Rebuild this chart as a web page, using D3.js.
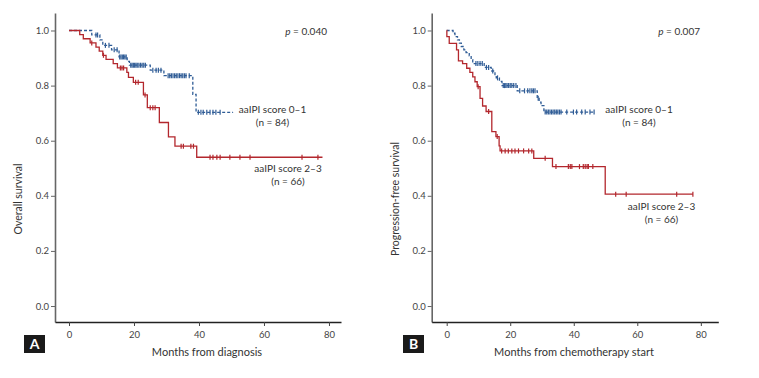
<!DOCTYPE html>
<html><head><meta charset="utf-8">
<script src="https://cdn.jsdelivr.net/npm/d3@7"></script>
<style>body{margin:0;background:#fff}svg{display:block}text{font-family:Lato,"Open Sans",sans-serif;fill:#333}</style>
</head><body><svg id="c" width="759" height="378"></svg>
<script>
// ---------- DATA ----------
const xTicks = [0, 20, 40, 60, 80];
const yTicks = [0.0, 0.2, 0.4, 0.6, 0.8, 1.0];
const groupLabels = ["aaIPI score 0\u20131", "aaIPI score 2\u20133"];
const groupN = ["(n = 84)", "(n = 66)"];
const panelLetters = ["A", "B"];
const yTitles = ["Overall survival", "Progression-free survival"];
const xTitles = ["Months from diagnosis", "Months from chemotherapy start"];
const pValues = ["0.040", "0.007"];

// Panel A – overall survival: [months, survival] after each event
const osLowSteps = [[0,1.0],[7.0,0.984],[9.5,0.966],[10.4,0.946],[13.1,0.93],[15.4,0.904],[17.9,0.888],[18.6,0.874],[25.0,0.856],[29.2,0.836],[38.1,0.768],[39.1,0.703]];
const osLowEnd = 50.5;
const osLowCens = [8.3,8.8,11.2,12.3,13.9,14.8,15.6,16.0,16.4,16.8,17.2,17.6,19.0,19.4,19.8,20.2,20.6,21.0,21.5,22.0,22.5,23.0,23.5,25.8,26.8,27.5,28.3,30.5,31.0,31.5,32.0,32.5,33.0,33.5,34.0,34.5,35.0,35.5,36.0,37.0,39.8,40.6,41.3,42.4,43.4,44.3,45.2,46.5];
const osHighSteps = [[0,1.0],[3.3,0.985],[4.4,0.97],[6.5,0.955],[8.3,0.94],[9.3,0.925],[10.4,0.91],[11.4,0.895],[13.6,0.88],[14.9,0.864],[17.8,0.848],[18.3,0.83],[19.8,0.812],[22.9,0.766],[24.1,0.72],[27.8,0.666],[30.6,0.614],[32.6,0.58],[39.3,0.54]];
const osHighEnd = 78.0;
const osHighCens = [7.0,10.6,15.8,16.3,16.8,20.5,21.3,23.4,25.0,25.8,26.5,34.5,35.2,37.5,38.3,43.4,44.3,45.5,46.5,49.5,52.6,55.7,71.7,76.6];

// Panel B – progression-free survival
const pfsLowSteps = [[0,1.0],[2.0,0.99],[2.6,0.978],[3.4,0.966],[4.0,0.954],[4.6,0.942],[5.4,0.93],[6.1,0.92],[7.1,0.908],[7.7,0.894],[8.2,0.88],[11.8,0.866],[14.0,0.853],[15.2,0.84],[15.6,0.828],[16.6,0.815],[17.4,0.8],[22.2,0.781],[28.5,0.754],[29.1,0.74],[29.7,0.727],[30.6,0.704]];
const pfsLowEnd = 46.7;
const pfsLowCens = [9.2,9.8,10.5,11.2,12.5,13.2,14.5,16.0,17.8,18.2,18.6,19.0,19.5,20.0,20.5,21.1,21.8,23.0,24.5,25.5,26.2,26.8,27.3,27.8,28.8,31.0,31.5,32.0,32.5,33.0,33.5,34.0,34.5,35.0,35.5,36.0,37.8,39.9,40.9,42.5,43.6,45.1,46.4];
const pfsHighSteps = [[0,1.0],[0.05,0.978],[0.8,0.953],[3.1,0.93],[3.7,0.89],[5.0,0.88],[6.3,0.863],[7.3,0.848],[8.2,0.832],[8.9,0.814],[9.6,0.796],[10.5,0.754],[11.3,0.726],[12.4,0.706],[14.2,0.633],[15.5,0.615],[16.5,0.581],[16.8,0.563],[27.4,0.536],[33.3,0.506],[49.9,0.406]];
const pfsHighEnd = 77.5;
const pfsHighCens = [9.9,13.2,15.9,17.3,18.4,19.4,20.5,21.5,22.6,24.2,25.8,26.8,31.0,34.4,38.3,38.9,39.4,41.8,43.0,43.6,44.2,44.6,46.0,53.2,56.5,72.4,77.5];

// ---------- DRAW ----------
const svg = d3.select("#c");
const blue = "#2f5c96", red = "#b3272d";

function stepValue(steps, t){ let v = steps[0][1]; for (const s of steps){ if (s[0] <= t) v = s[1]; } return v; }

function panel(o){
  const g = svg.append("g");
  const x = d3.scaleLinear().domain(o.xDom).range(o.xRange);
  const y = d3.scaleLinear().domain([-0.058, 1.0635]).range([322, 13]);

  // axes
  const ya = g.append("g").attr("transform", `translate(${o.xRange[0]},0)`)
    .call(d3.axisLeft(y).tickValues(yTicks).tickFormat(d3.format(".1f")).tickSize(4).tickSizeOuter(0));
  ya.select(".domain").attr("stroke", "#666").attr("stroke-width", 1.6);
  ya.selectAll(".tick line").attr("stroke", "#666");
  ya.selectAll(".tick text").attr("font-size", 9.5).attr("x", -6).style("fill", "#444");
  const xa = g.append("g").attr("transform", "translate(0,322)")
    .call(d3.axisBottom(x).tickValues(xTicks).tickSize(4).tickSizeOuter(0));
  xa.select(".domain").attr("stroke", "#222").attr("stroke-width", 1.6);
  xa.selectAll(".tick line").attr("stroke", "#444");
  xa.selectAll(".tick text").attr("font-size", 9.5).attr("dy", "0.9em").style("fill", "#444");
  ya.selectAll("text").attr("font-family", "Lato");
  xa.selectAll("text").attr("font-family", "Lato");

  const line = d3.line().x(d => x(d[0])).y(d => y(d[1])).curve(d3.curveStepAfter);
  o.groups.forEach(gr => {
    const pts = gr.steps.concat([[gr.end, gr.steps[gr.steps.length-1][1]]]);
    g.append("path").attr("d", line(pts)).attr("fill", "none").attr("stroke", gr.color)
      .attr("stroke-width", 1.3).attr("stroke-dasharray", gr.dash || null);
    g.selectAll(null).data(gr.cens).enter().append("line")
      .attr("x1", d => x(d)).attr("x2", d => x(d))
      .attr("y1", d => y(stepValue(gr.steps, d)) - 2.5).attr("y2", d => y(stepValue(gr.steps, d)) + 2.5)
      .attr("stroke", gr.color).attr("stroke-width", 1.2);
    g.append("text").attr("x", gr.lx).attr("y", gr.ly).attr("text-anchor", "middle").attr("font-size", 10).text(gr.label);
    g.append("text").attr("x", gr.lx).attr("y", gr.ly + 13).attr("text-anchor", "middle").attr("font-size", 10).text(gr.n);
  });

  // p value
  const pt = g.append("text").attr("x", o.px).attr("y", 35).attr("font-size", 10).attr("text-anchor", "end");
  pt.append("tspan").attr("font-style", "italic").text("p");
  pt.append("tspan").text(" = " + o.p);

  // titles
  g.append("text").attr("transform", `translate(${o.yTitleX},199) rotate(-90)`).attr("text-anchor", "middle")
    .attr("font-size", 10.5).text(o.yTitle);
  g.append("text").attr("x", o.xTitleX).attr("y", 356).attr("text-anchor", "middle").attr("font-size", 11).text(o.xTitle);

  // letter box
  g.append("rect").attr("x", o.boxX).attr("y", 335).attr("width", 21).attr("height", 18).attr("fill", "#1a1a1a");
  g.append("text").attr("x", o.boxX + 10.5).attr("y", 349).attr("text-anchor", "middle").attr("font-size", 14)
    .attr("font-weight", "bold").style("fill", "#fff").text(o.letter);
}

panel({
  xDom: [-4.31, 83.7], xRange: [55, 341], p: pValues[0], px: 327,
  yTitle: yTitles[0], yTitleX: 22, xTitle: xTitles[0], xTitleX: 207, boxX: 24, letter: panelLetters[0],
  groups: [
    {steps: osLowSteps, end: osLowEnd, cens: osLowCens, color: blue, dash: "3,2", label: groupLabels[0], n: groupN[0], lx: 272.5, ly: 113},
    {steps: osHighSteps, end: osHighEnd, cens: osHighCens, color: red, label: groupLabels[1], n: groupN[1], lx: 288, ly: 171.5}
  ]
});
panel({
  xDom: [-4.72, 85.5], xRange: [431.7, 718.3], p: pValues[1], px: 700,
  yTitle: yTitles[1], yTitleX: 399, xTitle: xTitles[1], xTitleX: 574, boxX: 403, letter: panelLetters[1],
  groups: [
    {steps: pfsLowSteps, end: pfsLowEnd, cens: pfsLowCens, color: blue, dash: "3,2", label: groupLabels[0], n: groupN[0], lx: 639, ly: 113},
    {steps: pfsHighSteps, end: pfsHighEnd, cens: pfsHighCens, color: red, label: groupLabels[1], n: groupN[1], lx: 661.5, ly: 209.5}
  ]
});
</script></body></html>
